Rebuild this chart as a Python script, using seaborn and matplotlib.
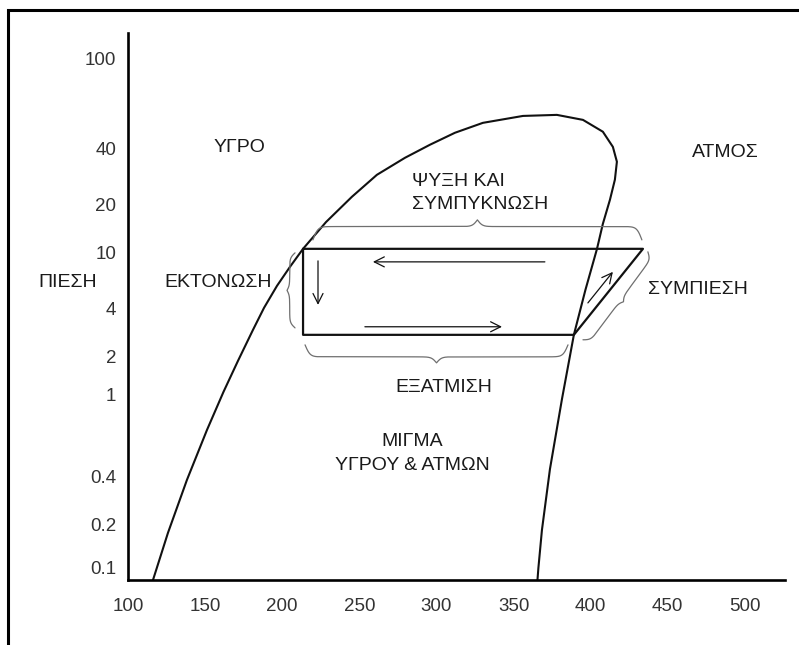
import numpy as np
import pandas as pd
import matplotlib
matplotlib.use("Agg")
import matplotlib.pyplot as plt
import seaborn as sns
from matplotlib.patches import Rectangle
from matplotlib.ticker import FixedLocator, FixedFormatter, NullLocator

# ---------------- data ----------------
# saturation dome: enthalpy (x) and pressure (y), left (liquid) branch -> top -> right (vapour) branch
dome_h = [116.2, 125.9, 138.2, 151.2, 161.9, 171.3, 181.0, 188.2, 196.6, 205.0,
          213.5, 228.4, 245.2, 261.4, 279.6, 295.8, 312.0, 330.1, 356.1, 378.1,
          395.0, 407.9, 414.4, 417.0, 415.7, 412.5, 407.9, 404.1, 396.6, 389.1,
          381.4, 373.6, 368.4, 366.1, 365.5]
dome_p = [0.0824, 0.176, 0.383, 0.676, 1.056, 1.86, 2.95, 4.07, 5.83, 7.95,
          10.6, 15.6, 22.1, 29.0, 35.8, 41.7, 47.1, 52.1, 55.9, 56.5,
          53.7, 47.6, 40.8, 34.1, 27.3, 21.3, 15.2, 10.6, 5.46, 2.75,
          0.956, 0.437, 0.1845, 0.10, 0.0824]

# refrigeration cycle (closed polygon)
cycle_h = [213.5, 433.9, 389.1, 213.5, 213.5]
cycle_p = [10.6, 10.6, 2.75, 2.75, 10.6]

x_ticks = [100, 150, 200, 250, 300, 350, 400, 450, 500]
x_tick_labels = ["100", "150", "200", "250", "300", "350", "400", "450", "500"]
y_ticks = [0.1, 0.2, 0.4, 1, 2, 4, 10, 20, 40, 100]
y_tick_labels = ["0.1", "0.2", "0.4", "1", "2", "4", "10", "20", "40", "100"]

# process arrows: (tail h, tail p) -> (head h, head p)
arrows = [((370.3, 8.63), (258.8, 8.63)),   # condensation, leftwards
          ((253.6, 3.09), (342.5, 3.09)),   # evaporation, rightwards
          ((223.2, 8.77), (223.2, 4.27)),   # expansion, downwards
          ((398.2, 4.41), (414.4, 7.33))]   # compression, up-right

# curly braces: end A, end B, depth (px)
braces = [((219.9, 12.06), (433.2, 12.06), 20),
          ((385.3, 2.38), (214.8, 2.38), 18),
          ((208.3, 3.04), (208.3, 10.0), 8),
          ((437.1, 10.15), (395.0, 2.56), 10)]

# labels: text, h, p, horizontal alignment
labels = [("ΥΓΡΟ", 172.6, 40.4, "center"),
          ("ΑΤΜΟΣ", 487.0, 38.1, "center"),
          ("ΠΙΕΣΗ", 61.1, 6.12, "center"),
          ("ΕΚΤΟΝΩΣΗ", 158.3, 6.12, "center"),
          ("ΨΥΞΗ ΚΑΙ", 284.1, 26.6, "left"),
          ("ΣΥΜΠΥΚΝΩΣΗ", 284.1, 20.0, "left"),
          ("ΕΞΑΤΜΙΣΗ", 304.9, 1.136, "center"),
          ("ΜΙΓΜΑ", 284.1, 0.592, "center"),
          ("ΥΓΡΟΥ & ΑΤΜΩΝ", 284.1, 0.457, "center"),
          ("ΣΥΜΠΙΕΣΗ", 469.5, 5.46, "center")]

# ---------------- the printed pressure scale (hand drawn, quasi-log) ----------------
scale_log = np.log10(np.array(y_ticks, dtype=float))
scale_pos = -np.array([568, 525, 477, 395, 357, 309, 253, 205, 149, 59], dtype=float)


def _interp_ext(x, xp, fp):
    x = np.asarray(x, dtype=float)
    y = np.interp(x, xp, fp)
    lo_s = (fp[1] - fp[0]) / (xp[1] - xp[0])
    hi_s = (fp[-1] - fp[-2]) / (xp[-1] - xp[-2])
    y = np.where(x < xp[0], fp[0] + (x - xp[0]) * lo_s, y)
    y = np.where(x > xp[-1], fp[-1] + (x - xp[-1]) * hi_s, y)
    return y


def p_forward(p):
    p = np.maximum(np.asarray(p, dtype=float), 1e-12)
    return _interp_ext(np.log10(p), scale_log, scale_pos)


def p_inverse(u):
    return 10 ** _interp_ext(u, scale_pos, scale_log)


# ---------------- figure ----------------
sns.set_theme(style="white")
plt.rcParams["font.family"] = ["Liberation Sans", "DejaVu Sans"]

fig = plt.figure(figsize=(7.99, 6.45), dpi=100)
ax = fig.add_axes([128 / 799, 1 - 580 / 645, 657 / 799, 547 / 645])

dome_df = pd.DataFrame({"h": dome_h, "p": dome_p})
cycle_df = pd.DataFrame({"h": cycle_h, "p": cycle_p})
sns.lineplot(data=dome_df, x="h", y="p", sort=False, estimator=None,
             color="#111111", lw=1.5, ax=ax)
sns.lineplot(data=cycle_df, x="h", y="p", sort=False, estimator=None,
             color="#111111", lw=1.6, ax=ax)
for ln in ax.lines:
    ln.set_solid_joinstyle("round")

ax.set_yscale("function", functions=(p_forward, p_inverse))
ax.set_xlim(100, 526)
ax.set_ylim(0.0824, 130)
ax.xaxis.set_major_locator(FixedLocator(x_ticks))
ax.xaxis.set_major_formatter(FixedFormatter(x_tick_labels))
ax.yaxis.set_major_locator(FixedLocator(y_ticks))
ax.yaxis.set_major_formatter(FixedFormatter(y_tick_labels))
ax.yaxis.set_minor_locator(NullLocator())
ax.xaxis.set_minor_locator(NullLocator())
ax.set_xlabel("")
ax.set_ylabel("")

for s in ["top", "right"]:
    ax.spines[s].set_visible(False)
for s in ["left", "bottom"]:
    ax.spines[s].set_color("black")
    ax.spines[s].set_linewidth(1.9)
ax.tick_params(axis="both", direction="out", length=5.5, width=1.1,
               color="black", labelcolor="#333333", labelsize=13.5)
ax.tick_params(axis="y", pad=3)
ax.tick_params(axis="x", pad=7.5)
ax.grid(False)

# arrows
for (tail, head) in arrows:
    ax.annotate("", xy=head, xytext=tail,
                arrowprops=dict(arrowstyle="->", color="#111111", lw=0.9,
                                shrinkA=0, shrinkB=0, mutation_scale=18))


# braces
def draw_brace(ax, a, b, depth, trans_px=10.0, color="#6f6f6f", lw=0.9):
    A = ax.transData.transform(a)
    B = ax.transData.transform(b)
    d = B - A
    L = np.hypot(*d)
    u = d / L
    n = np.array([-u[1], u[0]])
    beta = 4.0 * L / trans_px
    t = np.linspace(0, 0.5, 300)
    s1 = 1 / (1 + np.exp(-beta * t))
    s2 = 1 / (1 + np.exp(-beta * (t - 0.5)))
    y = 2 * s1 + s2
    y = (y - y[0]) / (y.max() - y[0]) * depth
    t_full = np.concatenate([t, 1 - t[::-1][1:]])
    y_full = np.concatenate([y, y[::-1][1:]])
    pts = A + np.outer(t_full * L, u) + np.outer(y_full, n)
    data = ax.transData.inverted().transform(pts)
    ax.plot(data[:, 0], data[:, 1], color=color, lw=lw, clip_on=False)


for a, b, dep in braces:
    draw_brace(ax, a, b, dep)

# labels
for txt, hx, py, ha in labels:
    ax.text(hx, py, txt, ha=ha, va="center", fontsize=14, color="#1a1a1a")

# outer frame of the picture (left and top edges visible)
fig.patches.append(Rectangle((8 / 799, -0.5), 2.0, 0.5 + (1 - 10 / 645),
                             transform=fig.transFigure, fill=False,
                             lw=2.2, ec="black"))

fig.savefig("out.png", dpi=100)
